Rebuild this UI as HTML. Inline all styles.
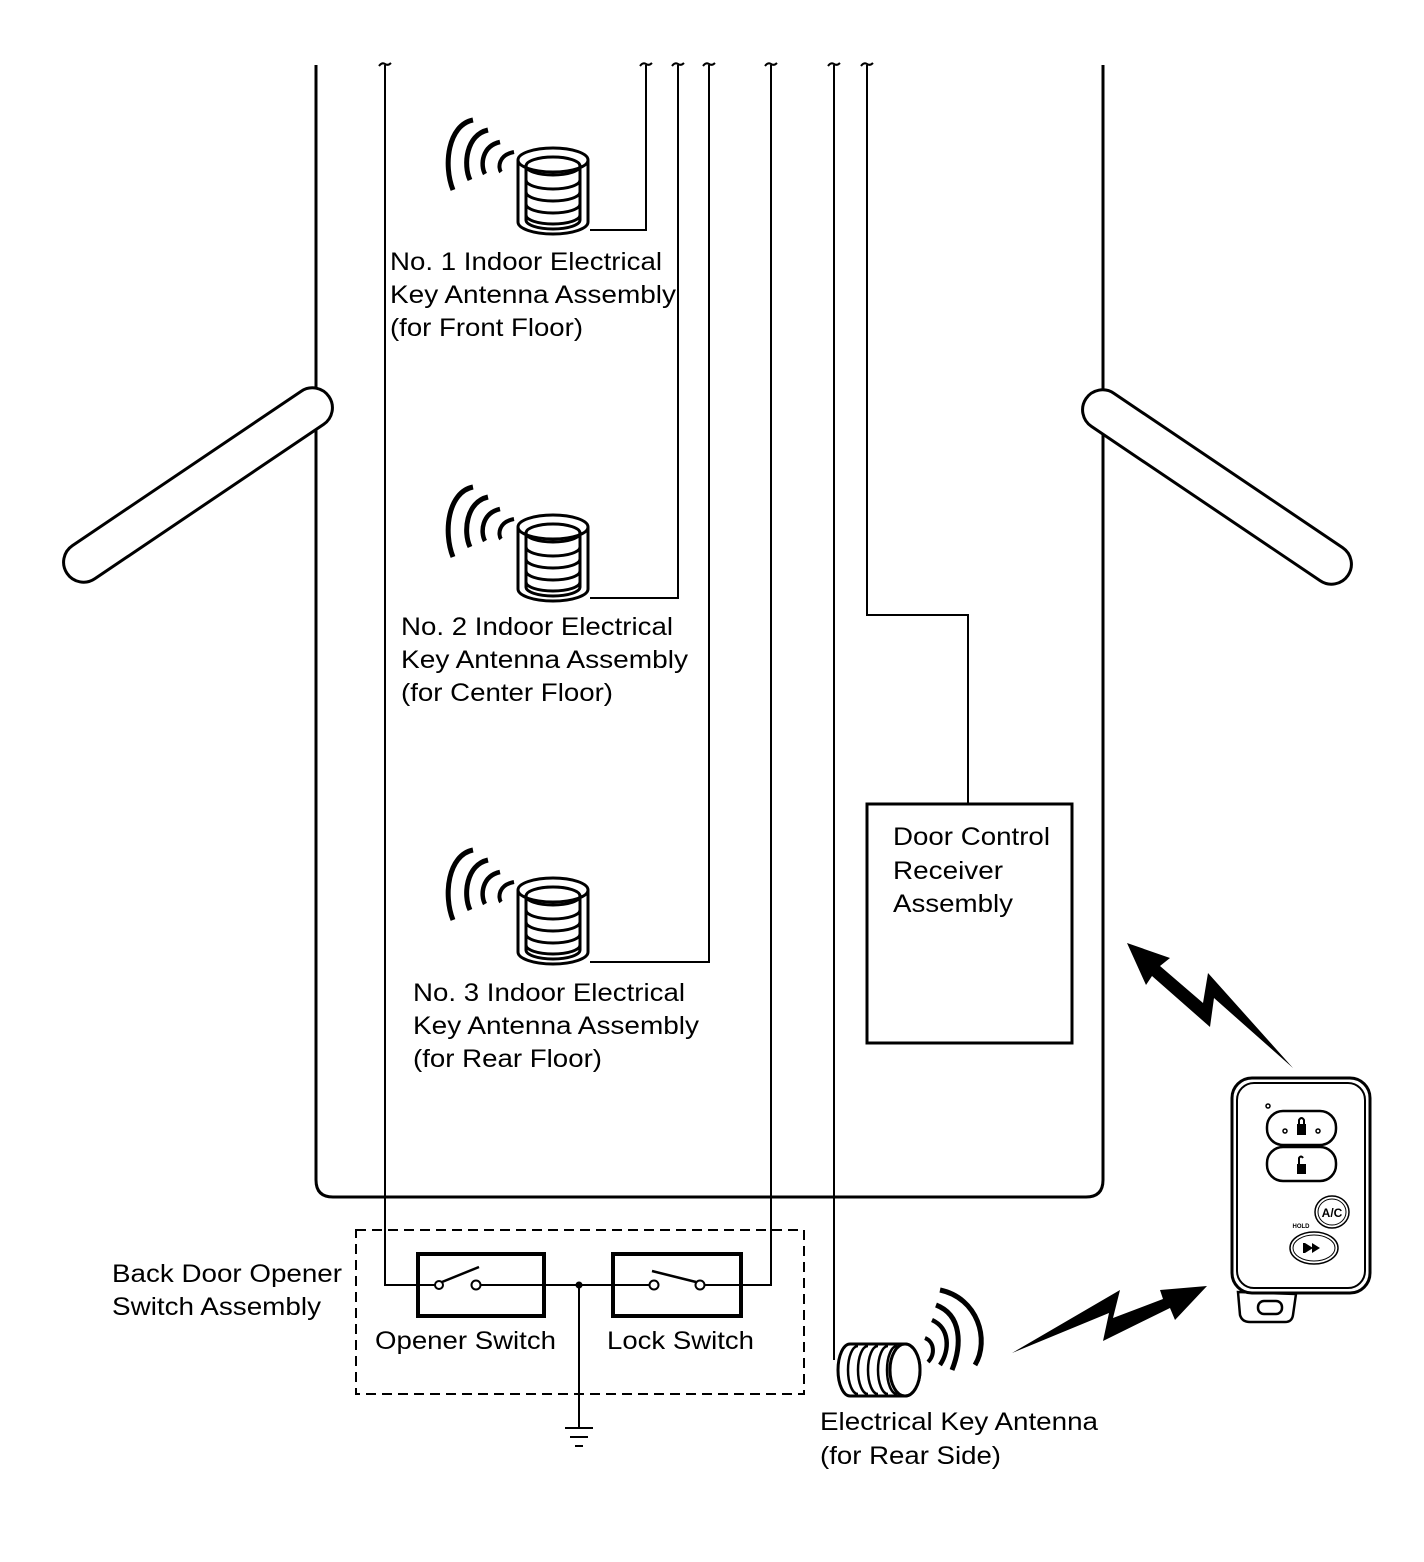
<!DOCTYPE html>
<html><head><meta charset="utf-8"><style>
html,body{margin:0;padding:0;background:#fff;}
svg{display:block;}
text{font-family:"Liberation Sans",Arial,sans-serif;font-size:25px;fill:#000;}
</style></head><body>
<svg width="1424" height="1562" viewBox="0 0 1424 1562" xmlns="http://www.w3.org/2000/svg">
<defs>
<g id="ant">
 <path d="M-45,-40 C-70,-35 -75,5 -65,30" fill="none" stroke="#000" stroke-width="5"/>
 <path d="M-30,-30 C-52,-25 -55,5 -48,20" fill="none" stroke="#000" stroke-width="5"/>
 <path d="M-18,-18 C-36,-14 -38,5 -33,14" fill="none" stroke="#000" stroke-width="4.5"/>
 <path d="M-4,-8 C-20,-5 -20,8 -17,12" fill="none" stroke="#000" stroke-width="4"/>
 <path d="M0,0 L0,62 A35,12 0 0 0 70,62 L70,0" fill="#fff" stroke="#000" stroke-width="3"/>
 <ellipse cx="35" cy="0" rx="35" ry="12" fill="#fff" stroke="#000" stroke-width="3"/>
 <path d="M8,5 L8,60 A27,9 0 0 0 62,60 L62,5" fill="none" stroke="#000" stroke-width="3"/>
 <ellipse cx="35" cy="6" rx="27" ry="9" fill="none" stroke="#000" stroke-width="3"/>
 <path d="M8,20 A27,9 0 0 0 62,20 M8,32 A27,9 0 0 0 62,32 M8,44 A27,9 0 0 0 62,44 M8,55 A27,9 0 0 0 62,55" fill="none" stroke="#000" stroke-width="3"/>
</g>
<g id="tl"><path d="M-6,1 Q-3,-3 0,-1 Q3,1 6,-2" fill="none" stroke="#000" stroke-width="2"/></g>
</defs>

<path d="M316,65 L316,1180 Q316,1197 333,1197 L1086,1197 Q1103,1197 1103,1180 L1103,65" fill="none" stroke="#000" stroke-width="3"/>

<g transform="translate(198,485) rotate(-34)">
 <rect x="-158" y="-20" width="316" height="40" rx="20" fill="#fff" stroke="#000" stroke-width="3"/>
</g>
<g transform="translate(1217,487) rotate(34)">
 <rect x="-158" y="-20" width="316" height="40" rx="20" fill="#fff" stroke="#000" stroke-width="3"/>
</g>

<g fill="none" stroke="#000" stroke-width="2">
 <path d="M385,65 L385,1285 L418,1285"/>
 <path d="M646,65 L646,230 L590,230"/>
 <path d="M678,65 L678,598 L590,598"/>
 <path d="M709,65 L709,962 L590,962"/>
 <path d="M771,65 L771,1285 L741,1285"/>
 <path d="M834,65 L834,1360"/>
 <path d="M867,65 L867,615 L968,615 L968,804"/>
</g>
<g transform="translate(385,65)"><use href="#tl"/></g>
<g transform="translate(646,65)"><use href="#tl"/></g>
<g transform="translate(678,65)"><use href="#tl"/></g>
<g transform="translate(709,65)"><use href="#tl"/></g>
<g transform="translate(771,65)"><use href="#tl"/></g>
<g transform="translate(834,65)"><use href="#tl"/></g>
<g transform="translate(867,65)"><use href="#tl"/></g>

<g transform="translate(518,160)"><use href="#ant"/></g>
<g transform="translate(518,527)"><use href="#ant"/></g>
<g transform="translate(518,890)"><use href="#ant"/></g>

<text x="390" y="270" textLength="272" lengthAdjust="spacingAndGlyphs">No. 1 Indoor Electrical</text>
<text x="390" y="303" textLength="286" lengthAdjust="spacingAndGlyphs">Key Antenna Assembly</text>
<text x="390" y="336" textLength="193" lengthAdjust="spacingAndGlyphs">(for Front Floor)</text>
<text x="401" y="635" textLength="272" lengthAdjust="spacingAndGlyphs">No. 2 Indoor Electrical</text>
<text x="401" y="668" textLength="287" lengthAdjust="spacingAndGlyphs">Key Antenna Assembly</text>
<text x="401" y="701" textLength="212" lengthAdjust="spacingAndGlyphs">(for Center Floor)</text>
<text x="413" y="1001" textLength="272" lengthAdjust="spacingAndGlyphs">No. 3 Indoor Electrical</text>
<text x="413" y="1034" textLength="286" lengthAdjust="spacingAndGlyphs">Key Antenna Assembly</text>
<text x="413" y="1067" textLength="189" lengthAdjust="spacingAndGlyphs">(for Rear Floor)</text>

<rect x="867" y="804" width="205" height="239" fill="#fff" stroke="#000" stroke-width="3"/>
<text x="893" y="845" textLength="157" lengthAdjust="spacingAndGlyphs">Door Control</text>
<text x="893" y="879" textLength="110" lengthAdjust="spacingAndGlyphs">Receiver</text>
<text x="893" y="912" textLength="120" lengthAdjust="spacingAndGlyphs">Assembly</text>

<rect x="356" y="1230" width="448" height="164" fill="none" stroke="#000" stroke-width="2" stroke-dasharray="10,6"/>
<text x="112" y="1282" textLength="230" lengthAdjust="spacingAndGlyphs">Back Door Opener</text>
<text x="112" y="1315" textLength="209" lengthAdjust="spacingAndGlyphs">Switch Assembly</text>
<rect x="418" y="1254" width="126" height="62" fill="#fff" stroke="#000" stroke-width="4"/>
<rect x="613" y="1254" width="128" height="62" fill="#fff" stroke="#000" stroke-width="4"/>
<g fill="none" stroke="#000" stroke-width="2">
 <path d="M418,1285 L435,1285 M480,1285 L650,1285 M704,1285 L741,1285"/>
 <circle cx="439" cy="1285" r="4" fill="#fff"/>
 <circle cx="476" cy="1285" r="4.5" fill="#fff"/>
 <path d="M442,1282 L479,1267" stroke-width="2.5"/>
 <circle cx="654" cy="1285" r="4.5" fill="#fff"/>
 <circle cx="700" cy="1285" r="4.5" fill="#fff"/>
 <path d="M652,1271 L696,1282" stroke-width="2.5"/>
</g>
<circle cx="579" cy="1285" r="3.5" fill="#000"/>
<path d="M579,1285 L579,1428 M565,1428 L593,1428 M570,1437 L588,1437 M575,1446 L583,1446" stroke="#000" stroke-width="2" fill="none"/>
<text x="375" y="1349" textLength="181" lengthAdjust="spacingAndGlyphs">Opener Switch</text>
<text x="607" y="1349" textLength="147" lengthAdjust="spacingAndGlyphs">Lock Switch</text>

<g fill="#fff" stroke="#000" stroke-width="3">
 <path d="M850,1344 L905,1344 A15,26 0 0 1 905,1396 L850,1396 A12,26 0 0 1 850,1344 Z"/>
 <ellipse cx="905" cy="1370" rx="15" ry="26"/>
</g>
<g fill="none" stroke="#000" stroke-width="2.5">
 <path d="M858,1346 A10,24 0 0 0 858,1394"/>
 <path d="M868,1346 A10,24 0 0 0 868,1394"/>
 <path d="M878,1346 A10,24 0 0 0 878,1394"/>
 <path d="M888,1346 A10,24 0 0 0 888,1394"/>
 <path d="M897,1346 A10,24 0 0 0 897,1394"/>
</g>
<g fill="none" stroke="#000">
 <path d="M925,1338 C935,1342 935,1355 928,1362" stroke-width="4"/>
 <path d="M932,1320 C950,1328 950,1350 940,1365" stroke-width="4.5"/>
 <path d="M936,1305 C962,1315 962,1345 952,1370" stroke-width="5"/>
 <path d="M940,1290 C978,1298 990,1340 975,1365" stroke-width="5"/>
</g>
<text x="820" y="1430" textLength="278" lengthAdjust="spacingAndGlyphs">Electrical Key Antenna</text>
<text x="820" y="1464" textLength="181" lengthAdjust="spacingAndGlyphs">(for Rear Side)</text>

<polygon points="1127,943 1170,958 1160,966 1203,1003 1208,973 1293,1068 1214,998 1210,1027 1152,976 1146,985" fill="#000"/>
<polygon points="1012,1353 1120,1290 1113,1318 1163,1299 1160,1290 1207,1286 1175,1320 1170,1308 1103,1341 1109,1313" fill="#000"/>

<g fill="#fff" stroke="#000">
 <path d="M1238,1292 L1240,1315 Q1242,1322 1250,1322 L1285,1322 Q1292,1322 1293,1315 L1296,1294 Z" stroke-width="2.5"/>
 <rect x="1232" y="1078" width="138" height="215" rx="20" stroke-width="3"/>
 <rect x="1237" y="1083" width="128" height="205" rx="17" stroke-width="2"/>
 <rect x="1267" y="1111" width="69" height="34" rx="16" stroke-width="2.5"/>
 <rect x="1267" y="1147" width="69" height="34" rx="16" stroke-width="2.5"/>
 <circle cx="1268" cy="1106" r="2" stroke-width="1.5"/>
 <circle cx="1285" cy="1131" r="2" stroke-width="1.5"/>
 <circle cx="1318" cy="1131" r="2" stroke-width="1.5"/>
 <ellipse cx="1332" cy="1212" rx="17" ry="16" stroke-width="1.5"/>
 <ellipse cx="1332" cy="1212" rx="14" ry="13" stroke-width="1"/>
 <ellipse cx="1314" cy="1248" rx="24" ry="16" stroke-width="1.5"/>
 <ellipse cx="1314" cy="1248" rx="21" ry="13" stroke-width="1"/>
 <rect x="1258" y="1301" width="24" height="13" rx="6" stroke-width="2.5"/>
</g>
<rect x="1297" y="1124" width="9" height="11" fill="#000"/>
<path d="M1299,1124 L1299,1120 Q1301.5,1116 1304,1120 L1304,1124" fill="none" stroke="#000" stroke-width="2"/>
<rect x="1297" y="1164" width="9" height="10" fill="#000"/>
<path d="M1299,1164 L1299,1158 Q1301,1155 1303,1158" fill="none" stroke="#000" stroke-width="2"/>
<text x="1332" y="1217" text-anchor="middle" style="font-size:12px;font-weight:bold">A/C</text>
<text x="1301" y="1228" text-anchor="middle" style="font-size:6px;font-weight:bold">HOLD</text>
<polygon points="1305,1243 1313,1248 1305,1253" fill="#000"/>
<polygon points="1312,1243 1320,1248 1312,1253" fill="#000"/>
<rect x="1303" y="1243" width="2" height="10" fill="#000"/>
</svg>
</body></html>
